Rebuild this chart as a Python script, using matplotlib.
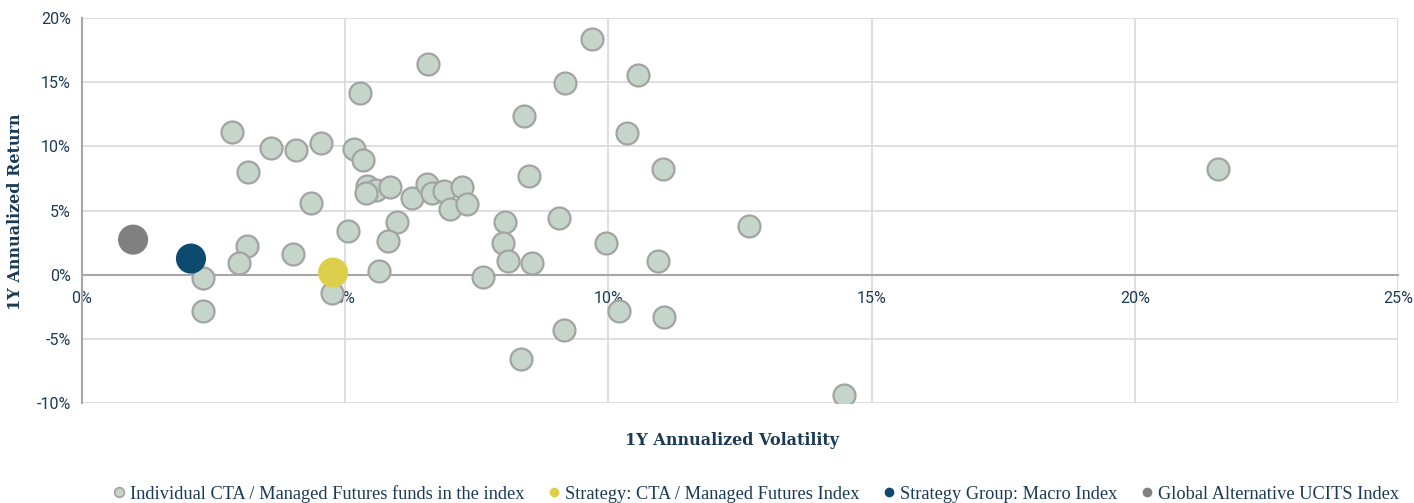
import matplotlib.pyplot as plt
from matplotlib.lines import Line2D
from matplotlib.ticker import PercentFormatter, MultipleLocator

# individual CTA / managed futures funds (volatility %, return %)
fund_vol = [2.85, 3.59, 4.07, 3.15, 4.54, 4.35, 3.13, 2.98, 4.01, 2.30,
            2.30, 4.75, 5.05, 5.28, 5.17, 5.34, 5.41, 5.58, 5.40, 5.85,
            6.27, 6.55, 6.65, 6.88, 7.21, 6.99, 7.31, 5.98, 5.81, 5.64,
            6.57, 7.62, 8.03, 8.00, 8.09, 8.55, 8.40, 8.49, 9.69, 9.18,
            10.56, 10.35, 11.04, 9.06, 9.95, 10.94, 12.67, 10.20, 11.06, 9.16,
            8.34, 14.48, 21.58]
fund_ret = [11.15, 9.90, 9.74, 8.03, 10.25, 5.60, 2.26, 0.94, 1.64, -0.23,
            -2.80, -1.40, 3.43, 14.20, 9.80, 8.90, 6.90, 6.60, 6.40, 6.80,
            6.00, 7.10, 6.40, 6.50, 6.80, 5.10, 5.50, 4.10, 2.60, 0.25,
            16.45, -0.15, 4.10, 2.45, 1.10, 0.90, 12.40, 7.70, 18.35, 14.95,
            15.60, 11.05, 8.20, 4.45, 2.45, 1.10, 3.80, -2.85, -3.30, -4.30,
            -6.60, -9.40, 8.25]

# index points
index_names = ["Strategy: CTA / Managed Futures Index",
               "Strategy Group: Macro Index",
               "Global Alternative UCITS Index"]
index_vol = [4.77, 2.07, 0.97]
index_ret = [0.16, 1.25, 2.73]
index_colors = ["#dccf4b", "#0d4a70", "#808080"]

fund_label = "Individual CTA / Managed Futures funds in the index"
fund_face = "#c5d5ca"
fund_edge = "#a3a3a3"
text_color = "#1b3a57"

plt.rcParams['font.family'] = ['Roboto', 'DejaVu Sans']
plt.rcParams['axes.unicode_minus'] = False

fig = plt.figure(figsize=(14.14, 5.03), dpi=100)
ax = fig.add_axes([0.058, 0.199, 0.9307, 0.765])

ax.scatter(fund_vol, fund_ret, s=250, facecolor=fund_face, edgecolor=fund_edge,
           linewidth=1.6, zorder=3)
for v, r, c in zip(index_vol, index_ret, index_colors):
    ax.scatter([v], [r], s=470, color=c, edgecolor="none", zorder=4)

ax.set_xlim(0, 25)
ax.set_ylim(-10, 20)
ax.xaxis.set_major_locator(MultipleLocator(5))
ax.yaxis.set_major_locator(MultipleLocator(5))
ax.xaxis.set_major_formatter(PercentFormatter(decimals=0))
ax.yaxis.set_major_formatter(PercentFormatter(decimals=0))

ax.grid(True, color="#d9d9d9", linewidth=1.2, zorder=0)
ax.set_axisbelow(True)
for s in ['top', 'right']:
    ax.spines[s].set_visible(False)
ax.spines['bottom'].set_position(('data', 0))
ax.spines['bottom'].set_color("#a6a6a6")
ax.spines['bottom'].set_linewidth(1.5)
ax.spines['left'].set_color("#a6a6a6")
ax.spines['left'].set_linewidth(1.5)
ax.tick_params(length=0, labelsize=11.5, colors=text_color, pad=8)
ax.tick_params(axis='x', pad=12)

fig.text(0.518, 0.125, "1Y Annualized Volatility", ha='center', va='center',
         fontsize=11.5, fontweight='bold', family=['DejaVu Serif'], color=text_color)
fig.text(0.011, 0.58, "1Y Annualized Return", ha='center', va='center', rotation=90,
         fontsize=11.5, fontweight='bold', family=['DejaVu Serif'], color=text_color)

# legend with small round markers
handles = [Line2D([], [], ls='none', marker='o', markersize=7,
                  markerfacecolor=fund_face, markeredgecolor=fund_edge, markeredgewidth=1.2)]
for c in index_colors:
    handles.append(Line2D([], [], ls='none', marker='o', markersize=7,
                          markerfacecolor=c, markeredgecolor='none'))
labels = [fund_label] + index_names
leg = fig.legend(handles, labels, loc='center', bbox_to_anchor=(0.535, 0.018), ncol=4,
                 frameon=False, handlelength=0.6, handletextpad=0.3, columnspacing=1.3,
                 prop={'family': 'Liberation Serif', 'size': 13.2})
for t in leg.get_texts():
    t.set_color(text_color)

fig.savefig("out.png", dpi=100)
